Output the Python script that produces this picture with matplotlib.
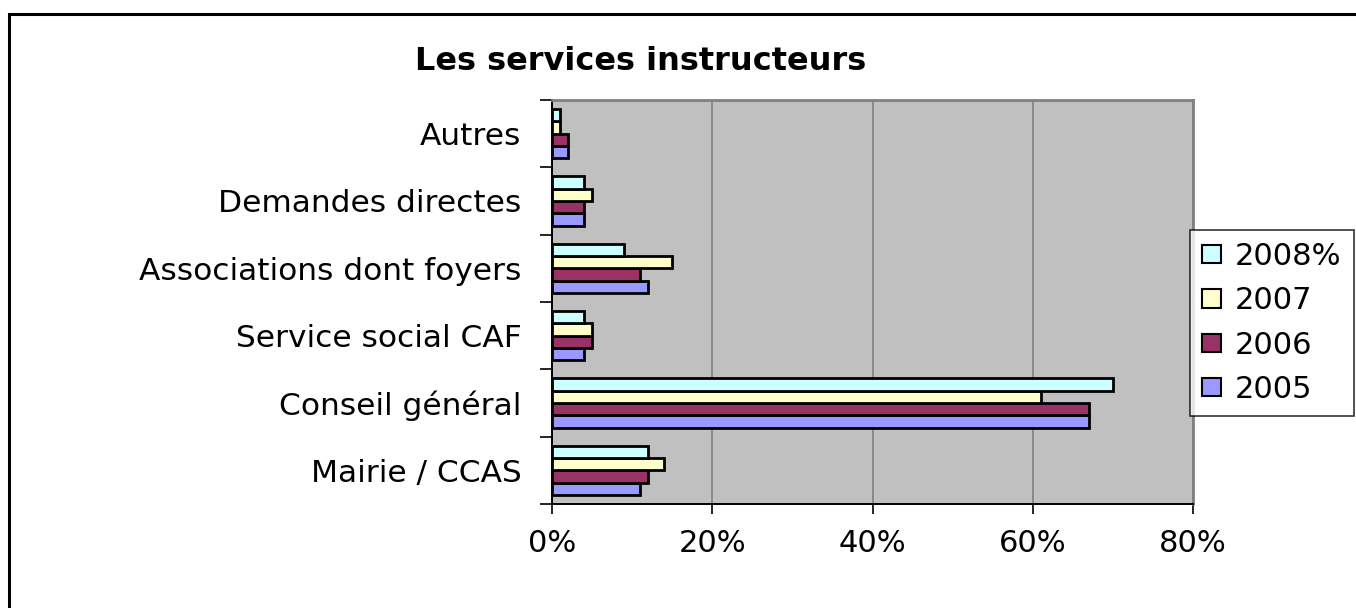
import numpy as np
import matplotlib
matplotlib.use("Agg")
import matplotlib.pyplot as plt
from matplotlib.patches import Rectangle, Patch

plt.rcParams['font.family'] = ['DejaVu Sans']

# categories from bottom to top
categories = ["Mairie / CCAS", "Conseil général", "Service social CAF",
              "Associations dont foyers", "Demandes directes", "Autres"]
val_2005 = [11, 67, 4, 12, 4, 2]
val_2006 = [12, 67, 5, 11, 4, 2]
val_2007 = [14, 61, 5, 15, 5, 1]
val_2008 = [12, 70, 4, 9, 4, 1]
series_labels = ["2005", "2006", "2007", "2008%"]
x_ticks = [0, 20, 40, 60, 80]
x_ticklabels = ["0%", "20%", "40%", "60%", "80%"]

colors = ["#9999FF", "#993366", "#FFFFCC", "#CCFFFF"]

fig = plt.figure(figsize=[13.56, 6.08], dpi=100)
ax = fig.add_axes([552 / 1356, 1 - 504 / 608, (1193 - 552) / 1356, (504 - 100) / 608])

# outer chart border (top and left visible, rest clipped)
fig.patches.append(Rectangle((9 / 1356, -0.2), 1.2, 1.2 - 14 / 608,
                             transform=fig.transFigure, fill=False,
                             edgecolor="black", linewidth=2.2, zorder=0))

y = np.arange(len(categories))
h = 0.183
series = [val_2005, val_2006, val_2007, val_2008]
handles = []
for i, (vals, col, lab) in enumerate(zip(series, colors, series_labels)):
    offs = (i - 1.5) * h
    ax.barh(y + offs, vals, height=h, color=col, edgecolor="black",
            linewidth=2.0, zorder=3)
    handles.append(Patch(facecolor=col, edgecolor="black", linewidth=1.5, label=lab))

ax.set_facecolor("#C0C0C0")
ax.set_xlim(0, 80)
ax.set_ylim(-0.5, len(categories) - 0.5)
ax.set_xticks(x_ticks)
ax.set_xticklabels(x_ticklabels, fontsize=22)
ax.xaxis.grid(True, color="#808080", linewidth=1.2, zorder=1)
ax.set_axisbelow(True)

ax.set_yticks(np.arange(len(categories) + 1) - 0.5)
ax.set_yticklabels([])
ax.set_yticks(y, minor=True)
ax.set_yticklabels(categories, minor=True, fontsize=22.5)
ax.tick_params(axis="y", which="major", length=9, width=1.2, color="black")
ax.tick_params(axis="y", which="minor", length=0, pad=22)
ax.tick_params(axis="x", length=7, width=1.2, color="black", pad=11)

for side in ["left", "bottom"]:
    ax.spines[side].set_color("black")
    ax.spines[side].set_linewidth(1.4)
for side in ["top", "right"]:
    ax.spines[side].set_color("#808080")
    ax.spines[side].set_linewidth(2)

fig.text(641 / 1356, 1 - 70 / 608, "Les services instructeurs", ha="center",
         va="baseline", fontsize=23, fontweight="bold")

leg = fig.legend(handles=handles[::-1], loc="center left",
                 bbox_to_anchor=(1190 / 1356, 1 - 323 / 608), fontsize=22,
                 frameon=True, fancybox=False, edgecolor="black",
                 handlelength=0.62, handleheight=0.55, handletextpad=0.45,
                 labelspacing=0.5, borderpad=0.4, borderaxespad=0)
leg.get_frame().set_linewidth(1.2)

fig.savefig("out.png", dpi=100)
